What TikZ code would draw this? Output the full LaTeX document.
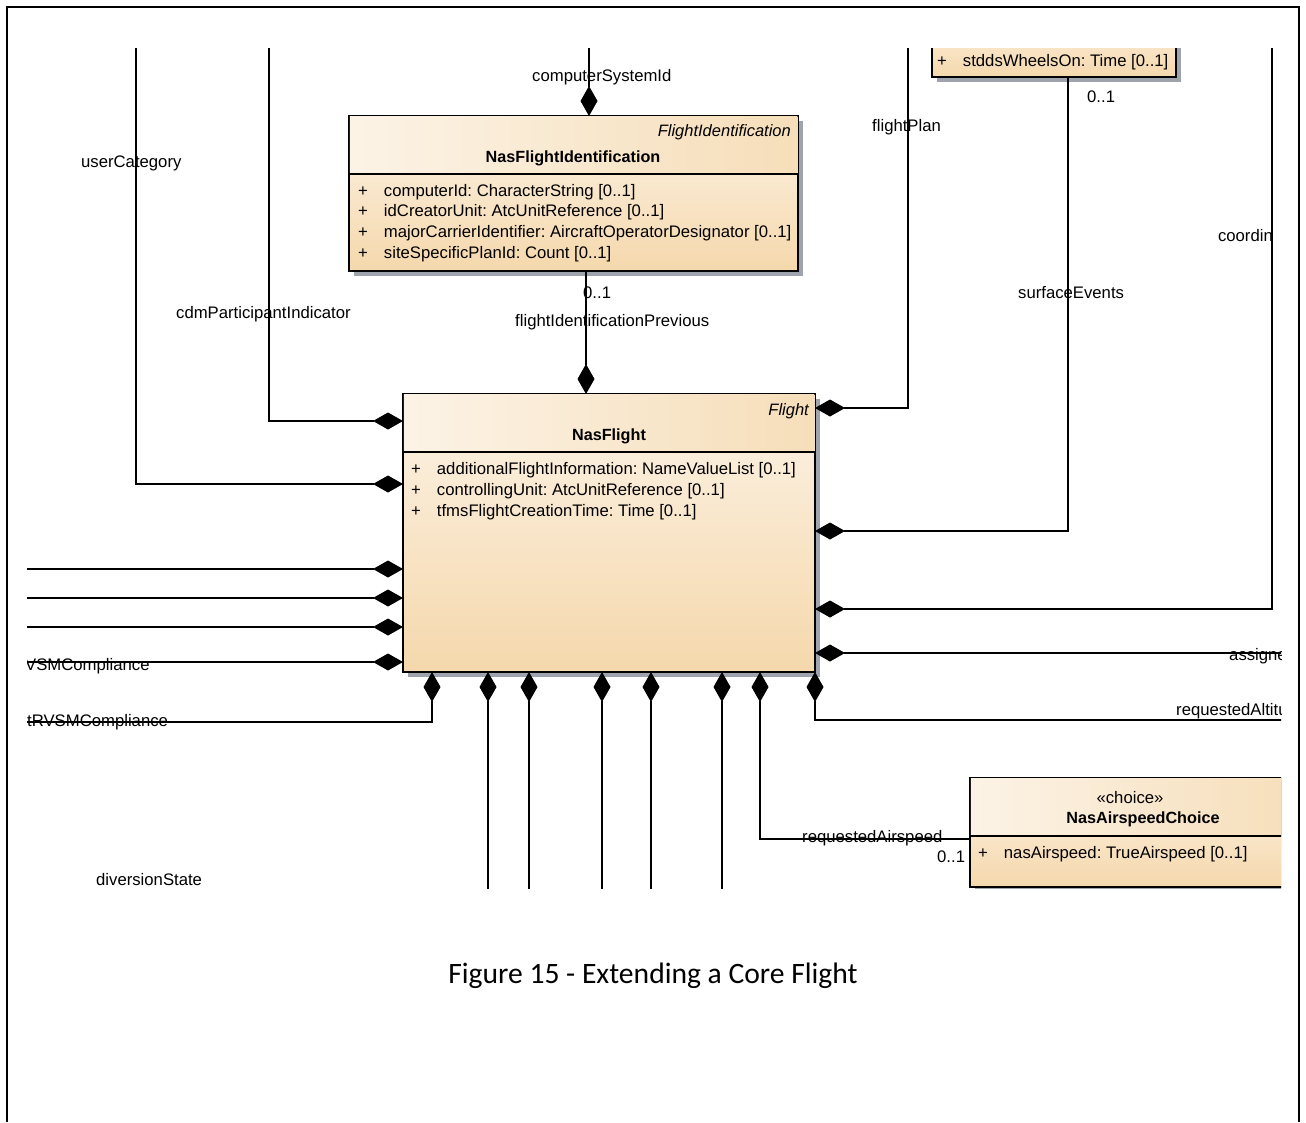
\documentclass[tikz,border=0pt]{standalone}
\usepackage{fontspec}
\setmainfont{Liberation Sans}
\newfontfamily\capfont{Carlito}
\usetikzlibrary{positioning,shapes,shadows,arrows.meta}
\frenchspacing

\definecolor{boxtop}{RGB}{252,243,230}
\definecolor{boxbot}{RGB}{245,216,172}
\definecolor{boxtan}{RGB}{246,222,185}
\definecolor{shadowgrey}{RGB}{158,163,174}

\tikzset{
  umlbox/.style={draw, line width=1.5pt, inner sep=0pt, outer sep=0pt,
    top color=boxtop, bottom color=boxbot,
    drop shadow={shadow xshift=5pt, shadow yshift=-5pt, fill=shadowgrey, opacity=1}},
  header/.style={left color=boxtop, right color=boxtan},
  txt/.style={font=\fontsize{16.7}{19}\selectfont, inner sep=0pt, text height=11.5pt, text depth=0pt},
  lbl/.style={txt, anchor=west},
  stereo/.style={txt, font=\fontsize{16.5}{19}\selectfont\itshape},
  cname/.style={txt, font=\fontsize{16.2}{19}\selectfont\bfseries},
  comp/.style={{Diamond[length=30pt,width=17pt]}-, line width=1.3pt},
}

\begin{document}
\begin{tikzpicture}[x=1pt, y=-1pt]
\useasboundingbox (0,0) rectangle (1306,1122);

% frame
\draw[line width=2pt] (7,1122) -- (7,7) -- (1299,7) -- (1299,1122);

\begin{scope}
\clip (27,48) rectangle (1281,888);

% classes
\node[umlbox, minimum width=449pt, minimum height=155pt] (nfi) at (573.5,193.5) {};
\node[umlbox, minimum width=412pt, minimum height=278pt] (nf) at (609,533) {};
\node[umlbox, minimum width=244pt, minimum height=67pt] (stdds) at (1054,43.5) {};
\node[umlbox, minimum width=334pt, minimum height=109pt] (nac) at (1137,832.5) {};

\fill[header] ([shift={(0.75pt,-0.75pt)}]nfi.north west) rectangle ([shift={(-0.75pt,-58pt)}]nfi.north east);
\fill[header] ([shift={(0.75pt,-0.75pt)}]nf.north west) rectangle ([shift={(-0.75pt,-58pt)}]nf.north east);
\fill[header] ([shift={(0.75pt,-0.75pt)}]nac.north west) rectangle ([shift={(-0.75pt,-58pt)}]nac.north east);

% compartment lines
\draw[line width=1.3pt] ([yshift=-58pt]nfi.north west) -- ([yshift=-58pt]nfi.north east);
\draw[line width=1.3pt] ([yshift=-58pt]nf.north west) -- ([yshift=-58pt]nf.north east);
\draw[line width=1.3pt] ([yshift=-58pt]nac.north west) -- ([yshift=-58pt]nac.north east);

% class texts
\node[stereo, anchor=east] (nfiStereo) at (791,131) {FlightIdentification};
\node[cname] (nfiName) at (573,157) {NasFlightIdentification};
\node[lbl] (nfiAttrA) at (358,191) {+\hspace{16pt}computerId: CharacterString [0..1]};
\node[lbl] (nfiAttrB) at (358,211) {+\hspace{16pt}idCreatorUnit: AtcUnitReference [0..1]};
\node[lbl] (nfiAttrC) at (358,232) {+\hspace{16pt}majorCarrierIdentifier: AircraftOperatorDesignator [0..1]};
\node[lbl] (nfiAttrD) at (358,253) {+\hspace{16pt}siteSpecificPlanId: Count [0..1]};

\node[stereo, anchor=east] (nfStereo) at (809,410) {Flight};
\node[cname] (nfName) at (609,435) {NasFlight};
\node[lbl] (nfAttrA) at (411,469) {+\hspace{16pt}additionalFlightInformation: NameValueList [0..1]};
\node[lbl] (nfAttrB) at (411,490) {+\hspace{16pt}controllingUnit: AtcUnitReference [0..1]};
\node[lbl] (nfAttrC) at (411,511) {+\hspace{16pt}tfmsFlightCreationTime: Time [0..1]};

\node[lbl] (stddsAttr) at (937,61) {+\hspace{16pt}stddsWheelsOn: Time [0..1]};

\node[txt] (nacStereo) at (1130,798) {«choice»};
\node[cname] (nacName) at (1143,818) {NasAirspeedChoice};
\node[lbl] (nacAttr) at (978,853) {+\hspace{16pt}nasAirspeed: TrueAirspeed [0..1]};

% connector ends and bends
\coordinate (csTop) at (589,40);
\coordinate (cdmBend) at (269,421);
\coordinate (cdmTop) at (269,40);
\coordinate (ucBend) at (136,484);
\coordinate (ucTop) at (136,40);
\coordinate (fpBend) at (908,408);
\coordinate (fpTop) at (908,40);
\coordinate (seBend) at (1068,531);
\coordinate (coBend) at (1272,609);
\coordinate (coTop) at (1272,40);
\coordinate (asEnd) at (1290,653);
\coordinate (raEnd) at (1290,720);
\coordinate (rvsmBend) at (432,722);
\coordinate (rvsmEnd) at (20,722);
\coordinate (rasBend) at (760,839);

% compositions
\draw[comp] (nfi.north -| csTop) -- (csTop);
\draw[comp] ([xshift=-23pt]nf.north) -- ([xshift=-23pt]nf.north |- nfi.south);
\draw[comp] (nf.west |- cdmBend) -- (cdmBend) -- (cdmTop);
\draw[comp] (nf.west |- ucBend) -- (ucBend) -- (ucTop);
\draw[comp] (nf.east |- fpBend) -- (fpBend) -- (fpTop);
\draw[comp] (nf.east |- seBend) -- (seBend) -- (seBend |- stdds.south);
\draw[comp] (nf.east |- coBend) -- (coBend) -- (coTop);
\draw[comp] (nf.east |- asEnd) -- (asEnd);
\draw[comp] (nf.south east) |- (raEnd);
\draw[comp] (nf.south -| rvsmBend) -- (rvsmBend) -- (rvsmEnd);
\draw[comp] (nf.south -| rasBend) -- (rasBend) -- (nac.west |- rasBend);

\foreach \y [count=\i] in {569,598,627,662} {
  \coordinate (left\i) at (20,\y);
  \draw[comp] (nf.west |- left\i) -- (left\i);
}
\foreach \x [count=\i] in {488,529,602,651,722} {
  \coordinate (down\i) at (\x,895);
  \draw[comp] (nf.south -| down\i) -- (down\i);
}

% role names and multiplicities
\node[lbl] (csLabel) at (532,76) {computerSystemId};
\node[lbl] (ucLabel) at (81,162) {userCategory};
\node[lbl] (fpLabel) at (872,126) {flightPlan};
\node[lbl] (seMult) at (1087,97) {0..1};
\node[lbl] (cdmLabel) at (176,313) {cdmParticipantIndicator};
\node[lbl] (fipMult) at (583,293) {0..1};
\node[lbl] (fipLabel) at (515,321) {flightIdentificationPrevious};
\node[lbl] (seLabel) at (1018,293) {surfaceEvents};
\node[txt, anchor=east] (coLabel) at (1273,236) {coordin};
\node[lbl] (vsmLabel) at (25,665) {VSMCompliance};
\node[lbl] (rvsmLabel) at (27,721) {tRVSMCompliance};
\node[lbl] (asLabel) at (1229,655) {assigne};
\node[lbl] (raLabel) at (1176,710) {requestedAltitu};
\node[lbl] (rasLabel) at (802,837) {requestedAirspeed};
\node[lbl] (rasMult) at (937,857) {0..1};
\node[lbl] (dsLabel) at (96,880) {diversionState};
\end{scope}

\node[font=\capfont\fontsize{29.6}{34}\selectfont] (caption) at (653,976) {Figure 15 - Extending a Core Flight};

\end{tikzpicture}
\end{document}
